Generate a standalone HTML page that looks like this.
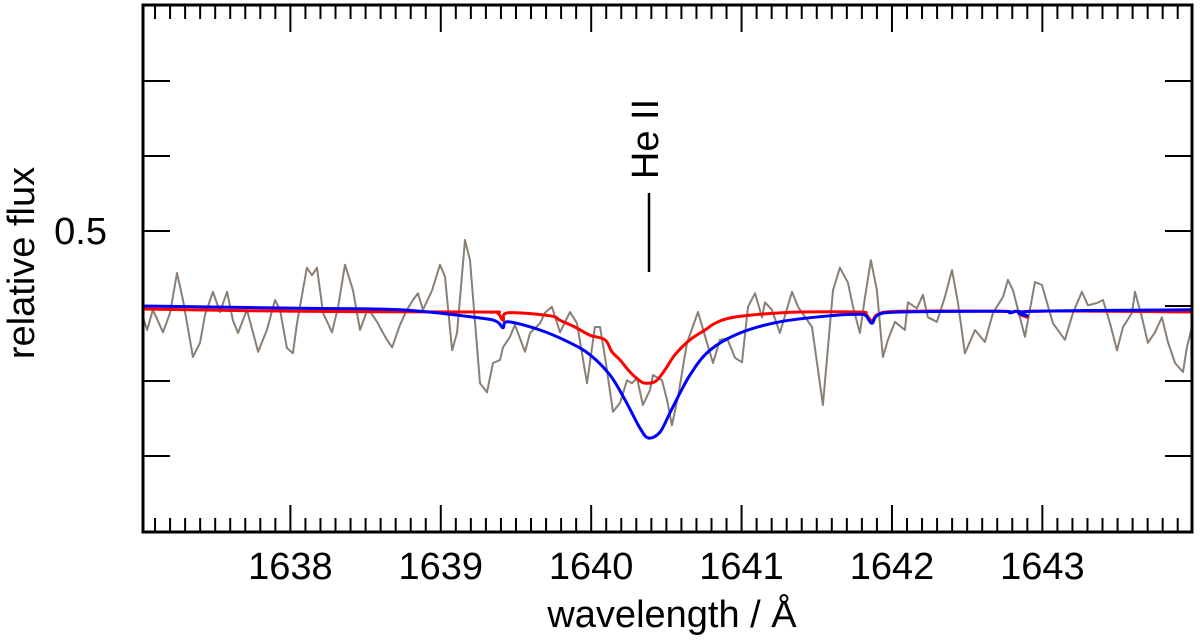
<!DOCTYPE html>
<html><head><meta charset="utf-8">
<style>
html,body{margin:0;padding:0;background:#fff;}
svg{display:block;font-family:"Liberation Sans",Arial,sans-serif;}
</style></head>
<body>
<svg id="chart" width="1200" height="643" viewBox="0 0 1200 643" xmlns="http://www.w3.org/2000/svg">
<g id="ticks"></g>
<g id="series"></g>
<rect x="143" y="5" width="1049" height="527" fill="none" stroke="#000" stroke-width="3"/>
<g id="labels"></g>
<text x="0" y="0" transform="translate(34,263) rotate(-90)" text-anchor="middle" font-size="38">relative flux</text>
<text x="672" y="627" text-anchor="middle" font-size="38">wavelength / Å</text>
<line x1="649" y1="193" x2="649" y2="272" stroke="#000" stroke-width="2.5"/>
<text x="0" y="0" transform="translate(658,139) rotate(-90)" text-anchor="middle" font-size="38">He II</text>
</svg>
<script>
const xTickValues=[1638,1639,1640,1641,1642,1643];
const yTickValues=[0.2,0.3,0.4,0.5,0.6,0.7];
const yTickLabels=["","","","0.5","",""];
const obsWave=[1637.020,1637.047,1637.086,1637.153,1637.200,1637.246,1637.286,1637.352,1637.399,1637.432,1637.485,1637.532,1637.579,1637.618,1637.652,1637.711,1637.785,1637.844,1637.898,1637.931,1637.977,1638.017,1638.044,1638.110,1638.144,1638.177,1638.217,1638.277,1638.317,1638.363,1638.416,1638.463,1638.516,1638.576,1638.642,1638.676,1638.729,1638.775,1638.815,1638.848,1638.882,1638.942,1638.995,1639.028,1639.075,1639.108,1639.161,1639.194,1639.261,1639.307,1639.347,1639.394,1639.414,1639.460,1639.493,1639.560,1639.593,1639.660,1639.693,1639.739,1639.793,1639.859,1639.906,1639.972,1640.025,1640.059,1640.092,1640.145,1640.192,1640.238,1640.271,1640.305,1640.344,1640.391,1640.411,1640.471,1640.504,1640.537,1640.577,1640.637,1640.710,1640.770,1640.810,1640.856,1640.903,1640.956,1641.003,1641.043,1641.089,1641.136,1641.156,1641.202,1641.255,1641.335,1641.375,1641.468,1641.541,1641.608,1641.654,1641.708,1641.741,1641.787,1641.821,1641.860,1641.900,1641.940,1641.973,1642.020,1642.086,1642.106,1642.166,1642.206,1642.239,1642.299,1642.352,1642.399,1642.439,1642.485,1642.552,1642.618,1642.672,1642.738,1642.771,1642.805,1642.851,1642.884,1642.951,1642.997,1643.071,1643.150,1643.204,1643.263,1643.303,1643.363,1643.403,1643.450,1643.496,1643.536,1643.596,1643.616,1643.662,1643.702,1643.749,1643.795,1643.835,1643.882,1643.935,1643.961,1643.995];
const obsFlux=[.385,.368,.395,.365,.391,.444,.408,.332,.351,.388,.419,.392,.419,.381,.364,.395,.339,.368,.408,.395,.344,.337,.377,.451,.441,.451,.391,.365,.399,.455,.421,.368,.397,.379,.355,.345,.375,.395,.408,.417,.395,.421,.455,.439,.341,.364,.488,.461,.297,.285,.324,.328,.345,.359,.375,.339,.364,.377,.391,.399,.365,.392,.377,.297,.372,.372,.332,.259,.271,.301,.297,.304,.268,.288,.308,.301,.275,.241,.279,.351,.392,.351,.324,.355,.357,.331,.325,.399,.417,.385,.405,.395,.364,.419,.399,.372,.268,.421,.451,.431,.399,.364,.412,.461,.421,.332,.355,.379,.368,.405,.397,.415,.385,.379,.412,.448,.404,.337,.368,.352,.391,.412,.435,.421,.385,.359,.432,.428,.377,.355,.391,.419,.401,.404,.408,.377,.341,.372,.391,.419,.385,.351,.365,.385,.352,.324,.312,.345,.372];
const redWave=[1637.020,1638.064,1639.261,1639.374,1639.414,1639.447,1639.726,1639.793,1639.892,1639.992,1640.092,1640.138,1640.192,1640.258,1640.325,1640.368,1640.431,1640.491,1640.557,1640.657,1640.757,1640.823,1640.922,1641.122,1641.388,1641.787,1641.827,1641.867,1641.907,1642.053,1642.718,1642.785,1642.818,1642.864,1642.898,1642.931,1643.995];
const redFlux=[.396,.393,.392,.391,.381,.391,.387,.381,.372,.361,.355,.339,.328,.312,.300,.297,.300,.315,.335,.355,.368,.377,.384,.389,.392,.392,.389,.380,.389,.393,.393,.391,.393,.391,.385,.393,.392];
const blueWave=[1637.020,1638.064,1638.729,1639.261,1639.374,1639.414,1639.447,1639.660,1639.859,1639.992,1640.125,1640.225,1640.325,1640.381,1640.458,1640.532,1640.657,1640.789,1640.989,1641.255,1641.588,1641.787,1641.827,1641.867,1641.907,1642.053,1642.718,1642.785,1642.825,1642.864,1642.898,1642.931,1643.995];
const blueFlux=[.400,.397,.395,.384,.379,.371,.379,.368,.351,.335,.308,.275,.237,.224,.232,.261,.308,.341,.364,.379,.387,.389,.387,.377,.388,.392,.393,.391,.393,.392,.387,.393,.395];

const X0=143,X1=1192,Y0=532,Y1=5,WMIN=1637.02,WMAX=1643.995,FMIN=0.0987,FMAX=0.8013;
function xs(w){return X0+(w-WMIN)/(WMAX-WMIN)*(X1-X0);}
function ys(f){return Y0-(f-FMIN)/(FMAX-FMIN)*(Y0-Y1);}
const NS="http://www.w3.org/2000/svg";
const tg=document.getElementById('ticks'),lg=document.getElementById('labels'),sg=document.getElementById('series');
function line(g,x1,y1,x2,y2,name){
  const l=document.createElementNS(NS,'line');
  l.setAttribute('x1',x1);l.setAttribute('y1',y1);l.setAttribute('x2',x2);l.setAttribute('y2',y2);
  l.setAttribute('stroke','#000');l.setAttribute('stroke-width','2');
  
  
  g.appendChild(l);
}
for(let i=Math.ceil(WMIN*10);i<=Math.floor(WMAX*10);i++){
  const x=xs(i/10);const major=(i%10===0);const len=major?27:14;
  line(tg,x,Y0,x,Y0-len,major?'x-major-tick':'x-minor-tick');
  line(tg,x,Y1,x,Y1+len,major?'x-major-tick-top':'x-minor-tick-top');
}
xTickValues.forEach(v=>{
  const t=document.createElementNS(NS,'text');
  t.setAttribute('x',xs(v));t.setAttribute('y',579);t.setAttribute('text-anchor','middle');t.setAttribute('font-size','38');
  
  
  t.textContent=v;lg.appendChild(t);
});
yTickValues.forEach((v,i)=>{
  const y=ys(v);
  line(tg,X0,y,X0+27,y,'y-major-tick');
  line(tg,X1,y,X1-27,y,'y-major-tick-right');
  if(yTickLabels[i]){
    const t=document.createElementNS(NS,'text');
    t.setAttribute('x',107);t.setAttribute('y',y+13);t.setAttribute('text-anchor','end');t.setAttribute('font-size','38');
    
    
    t.textContent=yTickLabels[i];lg.appendChild(t);
  }
});
function path(wv,fl,color,width,name,smooth){
  const pts=wv.map((w,i)=>[xs(w),ys(fl[i])]);
  let d='M'+pts[0][0].toFixed(1)+','+pts[0][1].toFixed(1);
  for(let i=1;i<pts.length;i++){
    if(!smooth){d+='L'+pts[i][0].toFixed(1)+','+pts[i][1].toFixed(1);continue;}
    const p0=pts[Math.max(0,i-2)],p1=pts[i-1],p2=pts[i],p3=pts[Math.min(pts.length-1,i+1)];
    const c1=[p1[0]+(p2[0]-p0[0])/6,p1[1]+(p2[1]-p0[1])/6];
    const c2=[p2[0]-(p3[0]-p1[0])/6,p2[1]-(p3[1]-p1[1])/6];
    d+='C'+c1[0].toFixed(1)+','+c1[1].toFixed(1)+' '+c2[0].toFixed(1)+','+c2[1].toFixed(1)+' '+p2[0].toFixed(1)+','+p2[1].toFixed(1);
  }
  const p=document.createElementNS(NS,'path');
  p.setAttribute('d',d);
  p.setAttribute('fill','none');p.setAttribute('stroke',color);p.setAttribute('stroke-width',width);
  p.setAttribute('stroke-linejoin','round');
  
  
  sg.appendChild(p);
}
path(obsWave,obsFlux,'#8a7f74',2,'observed-spectrum',false);
path(redWave,redFlux,'#ff0000',3,'model-red',true);
path(blueWave,blueFlux,'#0000ff',3,'model-blue',true);
</script>
</body></html>
